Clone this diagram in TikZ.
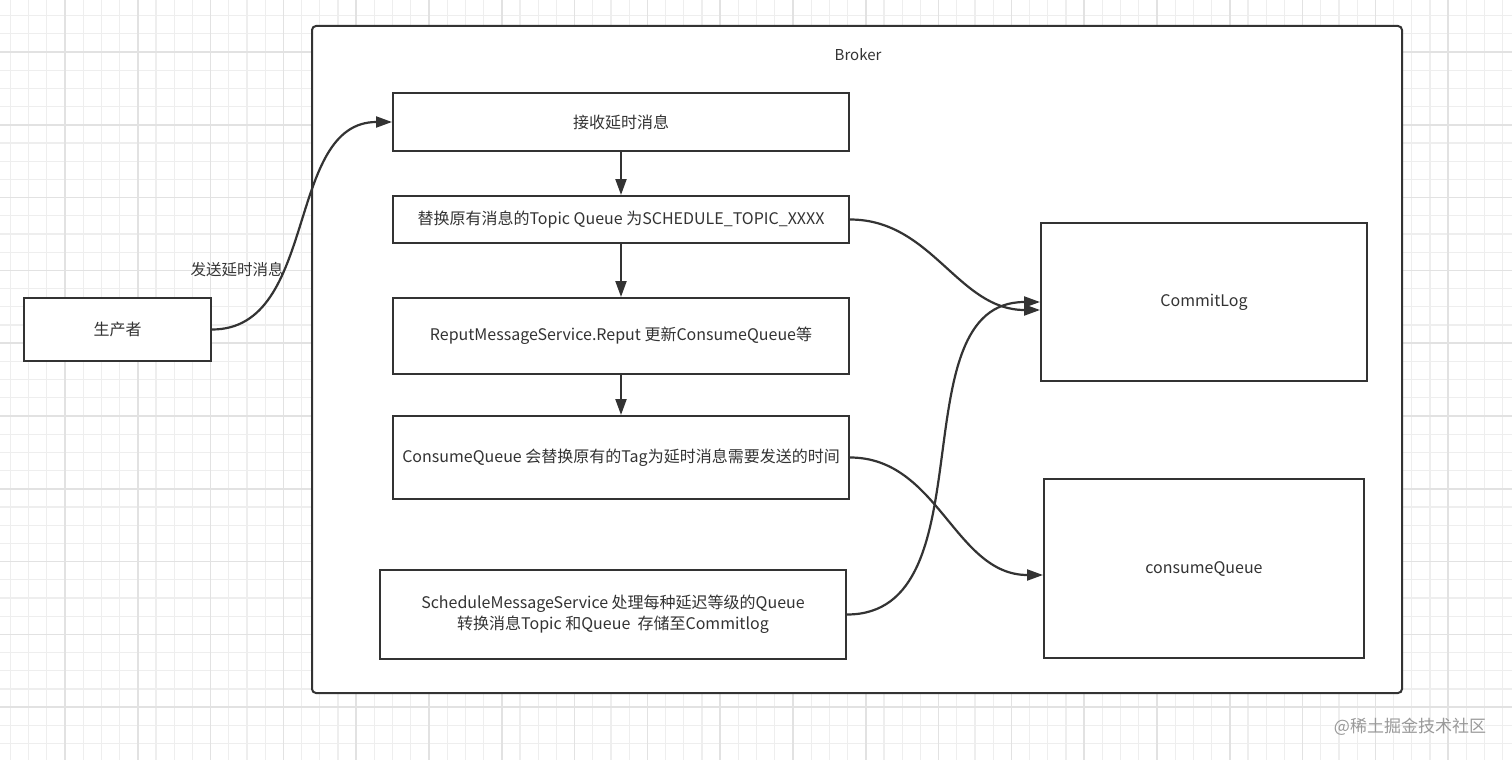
\documentclass[tikz,border=0pt]{standalone}
\usepackage{fontspec}
\setmainfont{Noto Sans CJK SC}
\usepackage{tikz}
\usetikzlibrary{arrows.meta}
\definecolor{ink}{HTML}{333333}
\definecolor{gridminor}{HTML}{EEEEEE}
\definecolor{gridmajor}{HTML}{E2E2E2}
\tikzstyle{proc} = [rectangle, minimum width=456pt, inner sep=0pt, text centered, draw=ink, line width=2pt, fill=white, text=ink]
\tikzstyle{store} = [rectangle, inner sep=0pt, text centered, draw=ink, line width=2pt, fill=white, text=ink]
\tikzstyle{arrow} = [line width=2.2pt, draw=ink, -{Triangle[length=16pt,width=11pt]}]

\begin{document}
\begin{tikzpicture}[x=1pt, y=-1pt, node distance=100pt, font=\fontsize{16}{21}\selectfont]
\useasboundingbox (0,0) rectangle (1512,760);
\fill[white] (0,0) rectangle (1512,760);
% background grid
\begin{scope}
\clip (0,0) rectangle (1512,760);
\foreach \i in {0,...,83} \draw[gridminor, line width=1.2pt] ({10.4+18.2*\i},0) -- ({10.4+18.2*\i},760);
\foreach \i in {0,...,42} \draw[gridminor, line width=1.2pt] (0,{-2.6+18.2*\i}) -- (1512,{-2.6+18.2*\i});
\foreach \i in {0,...,21} \draw[gridmajor, line width=1.6pt] ({-7.8+72.8*\i},0) -- ({-7.8+72.8*\i},760);
\foreach \i in {0,...,11} \draw[gridmajor, line width=1.6pt] (0,{-20.8+72.8*\i}) -- (1512,{-20.8+72.8*\i});
\end{scope}

\node(broker)[draw=ink, line width=2pt, rounded corners=4pt, fill=white, minimum width=1090pt, minimum height=667pt] at (857,359.5) {};
\node(0)[text=ink, font=\fontsize{15}{20}\selectfont] at (858,55) {Broker};

\node(1)[proc, minimum height=58pt] at (621,122) {接收延时消息};
\node(2)[proc, minimum height=47pt, below of = 1, yshift = 2.5pt]{替换原有消息的Topic Queue 为SCHEDULE\_TOPIC\_XXXX};
\node(3)[proc, minimum height=76pt, below of = 2, yshift = -16.5pt]{ReputMessageService.Reput 更新ConsumeQueue等};
\node(4)[proc, minimum height=83pt, below of = 3, yshift = -21.5pt]{ConsumeQueue 会替换原有的Tag为延时消息需要发送的时间};
\node(5)[proc, minimum width=466pt, minimum height=89pt, align=center] at (613,614.5) {ScheduleMessageService 处理每种延迟等级的Queue\\转换消息Topic 和Queue\ \ 存储至Commitlog};
\node(6)[proc, minimum width=187pt, minimum height=63pt] at (117.5,329.5) {生产者};
\node(7)[store, minimum width=326pt, minimum height=158pt] at (1204,302) {CommitLog};
\node(8)[store, minimum width=320pt, minimum height=179pt] at (1204,568.5) {consumeQueue};
\node(9)[text=ink, font=\fontsize{15.5}{20}\selectfont] at (237,270) {发送延时消息};
\node(10)[text=gray!80, font=\fontsize{17}{20}\selectfont] at (1410,727) {@稀土掘金技术社区};

\draw[arrow](6.east) to[out=0, in=180] (1.west);
\draw[arrow](1) -- (2);
\draw[arrow](2) -- (3);
\draw[arrow](3) -- (4);
\draw[arrow](2.east) to[out=0, in=180] ([yshift=-8pt]7.west);
\draw[arrow](5.east) to[out=0, in=180] (7.west);
\draw[arrow](4.east) to[out=0, in=180] ([yshift=-6.5pt]8.west);
\end{tikzpicture}
\end{document}
